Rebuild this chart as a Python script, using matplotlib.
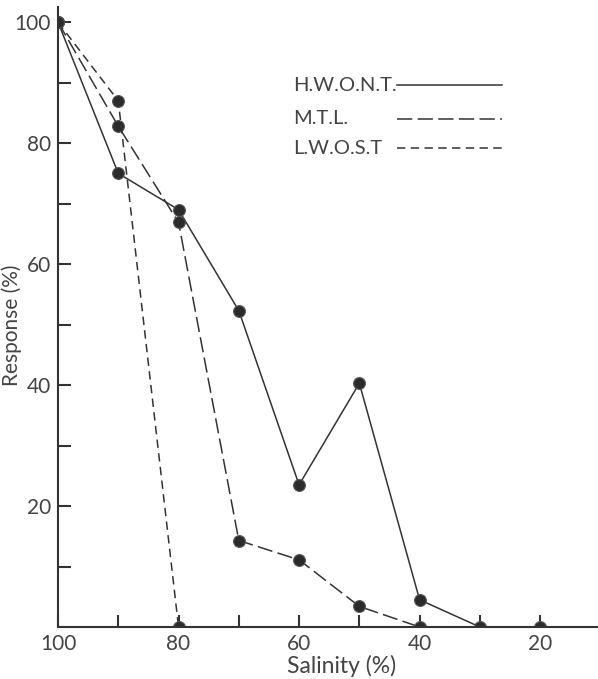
import matplotlib
matplotlib.use("Agg")
import matplotlib.pyplot as plt
from matplotlib.ticker import FixedLocator

# Salinity (%) on x, response (%) on y
salinity = [100, 90, 80, 70, 60, 50, 40, 30, 20]
hwont = [100, 75, 69, 52.3, 23.5, 40.3, 4.5, 0, 0]
mtl_x = [100, 90, 80, 70, 60, 50, 40]
mtl = [100, 82.8, 66.9, 14.3, 11.1, 3.4, 0]
lwost_x = [100, 90, 80]
lwost = [100, 87, 0]

series_names = ['H.W.O.N.T.', 'M.T.L.', 'L.W.O.S.T']

plt.rcParams['font.family'] = ['Lato', 'DejaVu Sans']
ink = '#333333'
txt = '#444444'

fig = plt.figure(figsize=(5.98, 6.79), dpi=100)
ax = fig.add_axes([0.097, 0.0766, 0.903, 0.913])

styles = ['-', (0, (10, 3.5)), (0, (5.5, 3.5))]
mk = dict(marker='o', markersize=8.5, markerfacecolor='#2b2b2b',
          markeredgecolor='#555555', markeredgewidth=0.8, color=ink, lw=1.1,
          clip_on=True)
ax.plot(salinity, hwont, ls=styles[0], **mk)
ax.plot(mtl_x, mtl, ls=styles[1], **mk)
ax.plot(lwost_x, lwost, ls=styles[2], **mk)

ax.set_xlim(100, 10.4)
ax.set_ylim(0, 102.5)

for side in ['top', 'right']:
    ax.spines[side].set_visible(False)
for side in ['left', 'bottom']:
    ax.spines[side].set_linewidth(1.5)
    ax.spines[side].set_color(ink)

ax.xaxis.set_major_locator(FixedLocator([100, 80, 60, 40, 20]))
ax.xaxis.set_minor_locator(FixedLocator([90, 70, 50, 30]))
ax.yaxis.set_major_locator(FixedLocator([20, 40, 60, 80, 100]))
ax.yaxis.set_minor_locator(FixedLocator([10, 30, 50, 70, 90]))
ax.tick_params(which='both', direction='in', length=9, width=1.5,
               color=ink, labelcolor=txt, labelsize=15)
ax.tick_params(axis='y', pad=5)
ax.tick_params(axis='x', pad=5)

ax.set_xlabel('Salinity (%)', fontsize=16.5, color=txt)
ax.xaxis.set_label_coords(0.525, -0.045)
ax.set_ylabel('Response (%)', fontsize=15, color=txt)
ax.yaxis.set_label_coords(-0.067, 0.486)

# hand-drawn style key: labels left, line samples right
key_y = [0.874, 0.820, 0.772]
for name, ls, ky in zip(series_names, styles, key_y):
    ax.text(0.435, ky, name, transform=ax.transAxes, fontsize=14.5,
            color=txt, va='center', ha='left')
    ax.plot([0.628, 0.822], [ky, ky], transform=ax.transAxes, ls=ls,
            color=ink, lw=1.1)

fig.savefig('out.png', dpi=100)
